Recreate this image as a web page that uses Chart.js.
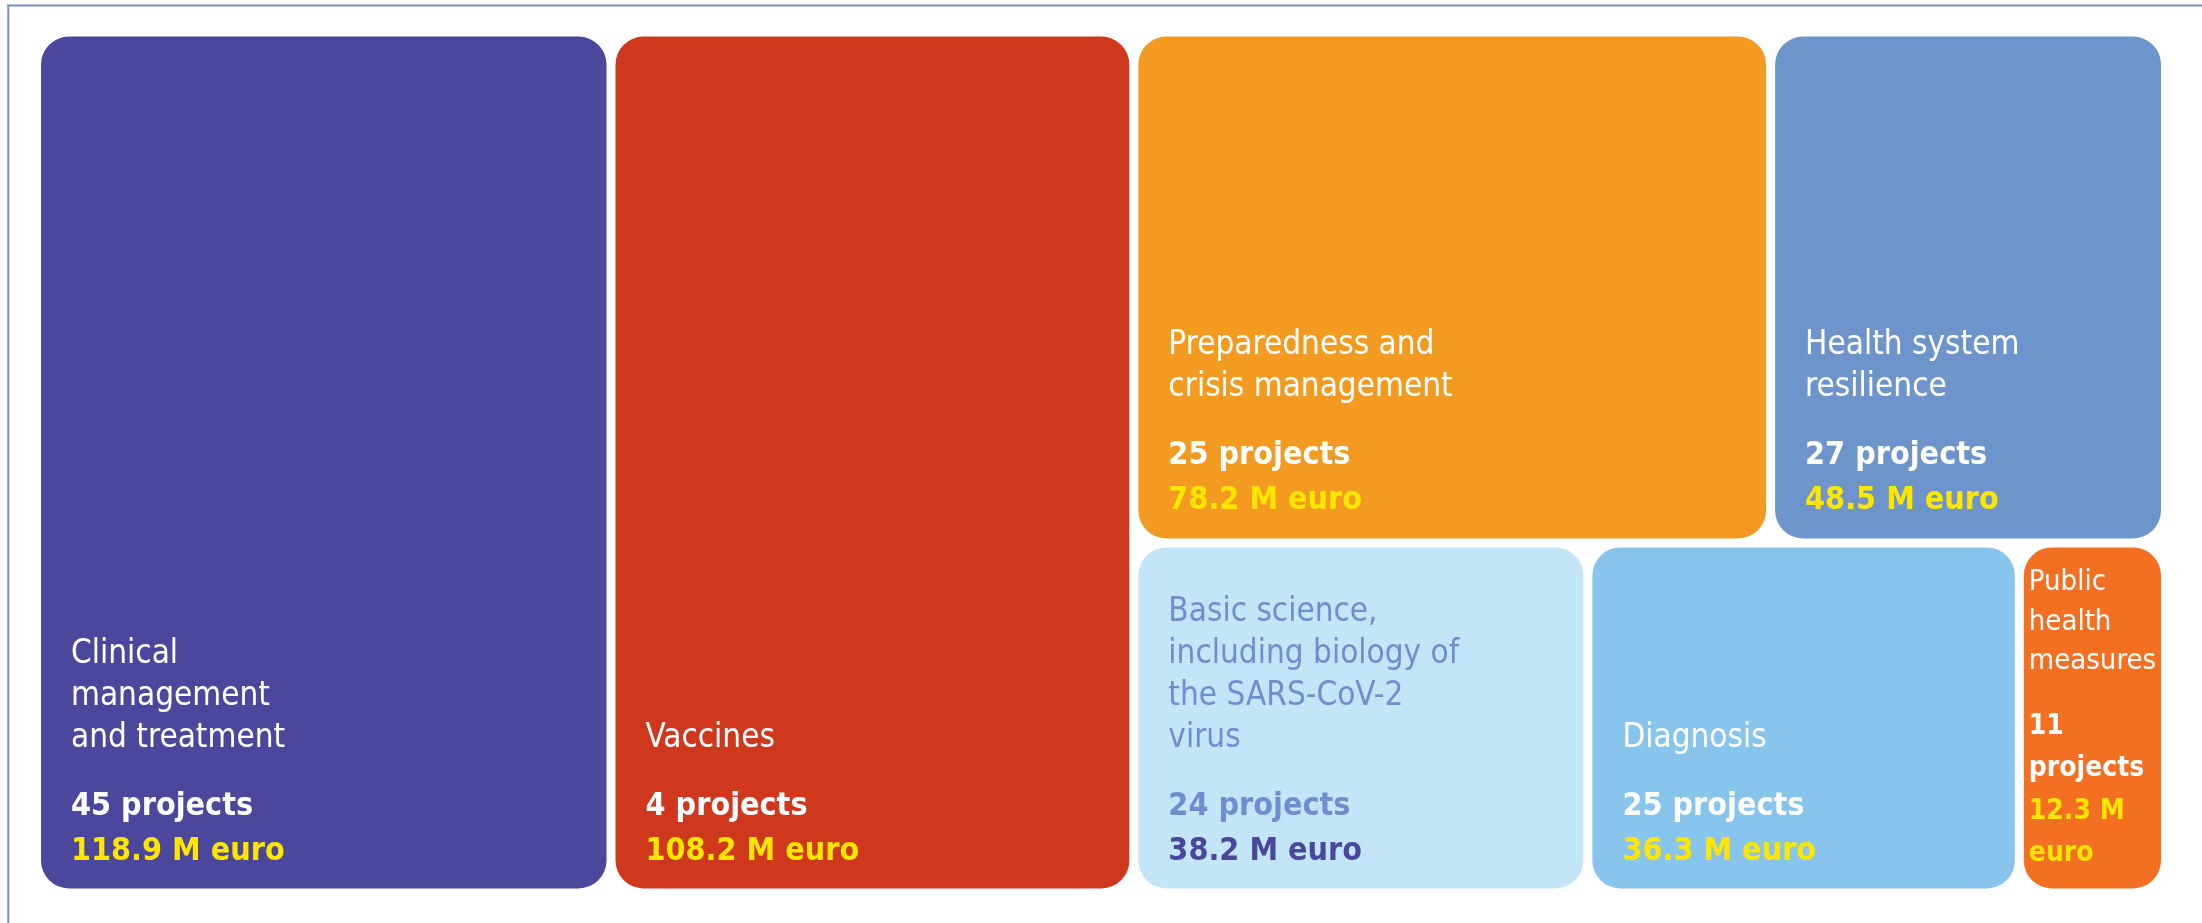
<!DOCTYPE html>
<html>
<head>
<meta charset="utf-8">
<script src="https://cdn.jsdelivr.net/npm/chart.js@4.4.0/dist/chart.umd.min.js"></script>
<style>
  html, body { margin: 0; padding: 0; background: #fff; }
</style>
</head>
<body>
<canvas id="treeChart" width="2202" height="923"></canvas>
<script>
// Research areas, one entry per tile
const labelLines = [
  ["Clinical", "management", "and treatment"],
  ["Vaccines"],
  ["Preparedness and", "crisis management"],
  ["Health system", "resilience"],
  ["Basic science,", "including biology of", "the SARS-CoV-2", "virus"],
  ["Diagnosis"],
  ["Public", "health", "measures"]
];
const projects = [45, 4, 25, 27, 24, 25, 11];
const funding = [118.9, 108.2, 78.2, 48.5, 38.2, 36.3, 12.3]; // M euro

const fillColors = ["#4a479c", "#cf381c", "#f39b21", "#6e95cb", "#c2e6f8", "#87c5ec", "#f37022"];
const labelColors = ["#ffffff", "#ffffff", "#ffffff", "#ffffff", "#6d8fcf", "#ffffff", "#ffffff"];
const amountColors = ["#ffe600", "#ffe600", "#ffe600", "#ffe600", "#4a479c", "#ffe600", "#ffe600"];

// two full-height columns, then a block split in two rows
const groups = [[0], [1], [[2, 3], [4, 5, 6]]];

const sum = arr => arr.reduce((a, b) => a + b, 0);

// slice-and-dice layout in value space (x: 0..total, y: 0..1)
function layoutTiles() {
  const tiles = [];
  let x = 0;
  groups.forEach(g => {
    if (typeof g[0] === "number") {
      const w = sum(g.map(i => funding[i]));
      let y = 0;
      g.forEach(i => {
        const h = funding[i] / w;
        tiles[i] = { x0: x, x1: x + w, y0: y, y1: y + h };
        y += h;
      });
      x += w;
    } else {
      const w = sum(g.map(row => sum(row.map(i => funding[i]))));
      let y = 0;
      g.forEach(row => {
        const rv = sum(row.map(i => funding[i]));
        const h = rv / w;
        let xx = x;
        row.forEach(i => {
          const ww = funding[i] / rv * w;
          tiles[i] = { x0: xx, x1: xx + ww, y0: y, y1: y + h };
          xx += ww;
        });
        y += h;
      });
      x += w;
    }
  });
  return tiles.map((t, i) => ({ x: (t.x0 + t.x1) / 2, y: (t.y0 + t.y1) / 2, ...t, idx: i }));
}

const tiles = layoutTiles();
const total = sum(funding);

function setFont(ctx, weight, size) {
  ctx.font = `${weight} ${size}px "DejaVu Sans Condensed", "DejaVu Sans", sans-serif`;
  try { ctx.fontStretch = "condensed"; } catch (e) {}
}

// wrap words to a given width
function wrap(ctx, text, maxW) {
  const words = text.split(" ");
  const lines = [];
  let cur = "";
  words.forEach(w => {
    const test = cur ? cur + " " + w : w;
    if (cur && ctx.measureText(test).width > maxW) {
      lines.push(cur);
      cur = w;
    } else {
      cur = test;
    }
  });
  if (cur) lines.push(cur);
  return lines;
}

const frameAndTiles = {
  id: "frameAndTiles",
  beforeDraw(chart) {
    const ctx = chart.ctx;
    ctx.save();
    ctx.strokeStyle = "#7b90c0";
    ctx.lineWidth = 2;
    ctx.beginPath();
    ctx.moveTo(7, 5.5);
    ctx.lineTo(chart.width, 5.5);
    ctx.moveTo(8.3, 4.5);
    ctx.lineTo(8.3, chart.height);
    ctx.stroke();
    ctx.restore();
  },
  afterDatasetsDraw(chart) {
    const ctx = chart.ctx;
    const sx = chart.scales.x, sy = chart.scales.y;
    const gap = 4.5;
    chart.data.datasets[0].data.forEach(t => {
      const i = t.idx;
      const left = sx.getPixelForValue(t.x0) + gap;
      const right = sx.getPixelForValue(t.x1) - gap;
      const top = sy.getPixelForValue(t.y0) + gap;
      const bottom = sy.getPixelForValue(t.y1) - gap;
      const w = right - left;

      ctx.save();
      ctx.fillStyle = fillColors[i];
      ctx.beginPath();
      ctx.roundRect(left, top, w, bottom - top, 28);
      ctx.fill();

      // text, anchored to the bottom of the tile
      const pad = w < 250 ? 5 : 30;
      const tx = left + pad;
      const maxW = w - pad * 2;
      ctx.textBaseline = "alphabetic";
      ctx.textAlign = "left";

      // scale down text for narrow tiles so that every word fits
      const lines = labelLines[i];
      setFont(ctx, "normal", 33);
      let widest = Math.max(...lines.map(l => ctx.measureText(l).width));
      setFont(ctx, "bold", 32);
      const statWords = (projects[i] + " projects " + funding[i].toFixed(1) + " M euro").split(" ");
      widest = Math.max(widest, ...statWords.map(s => ctx.measureText(s).width));
      const s = Math.min(1, (maxW + 2) / widest);
      const ls = Math.sqrt(s); // line spacing shrinks less than the glyphs

      setFont(ctx, "bold", Math.floor(32 * s));
      const amountLines = wrap(ctx, funding[i].toFixed(1) + " M euro", maxW);
      const projLines = wrap(ctx, projects[i] + " projects", maxW);

      let y = bottom - 29 * ls;
      ctx.fillStyle = amountColors[i];
      for (let k = amountLines.length - 1; k >= 0; k--) {
        ctx.fillText(amountLines[k], tx, y);
        y -= 45 * ls;
      }
      ctx.fillStyle = labelColors[i];
      for (let k = projLines.length - 1; k >= 0; k--) {
        ctx.fillText(projLines[k], tx, y);
        y -= 45 * ls;
      }
      y -= 23 * ls;

      setFont(ctx, "normal", Math.floor(33 * s));
      ctx.fillStyle = labelColors[i];
      for (let k = lines.length - 1; k >= 0; k--) {
        ctx.fillText(lines[k], tx, y);
        y -= 42 * ls;
      }
      ctx.restore();
    });
  }
};

new Chart(document.getElementById("treeChart"), {
  type: "scatter",
  data: {
    datasets: [{
      data: tiles,
      pointRadius: 0,
      pointHoverRadius: 0
    }]
  },
  options: {
    responsive: false,
    animation: false,
    layout: { padding: { left: 36.5, right: 36.5, top: 32, bottom: 30 } },
    scales: {
      x: { type: "linear", min: 0, max: total, display: false },
      y: { type: "linear", min: 0, max: 1, reverse: true, display: false }
    },
    plugins: {
      legend: { display: false },
      tooltip: { enabled: false }
    },
    events: []
  },
  plugins: [frameAndTiles]
});
</script>
</body>
</html>
